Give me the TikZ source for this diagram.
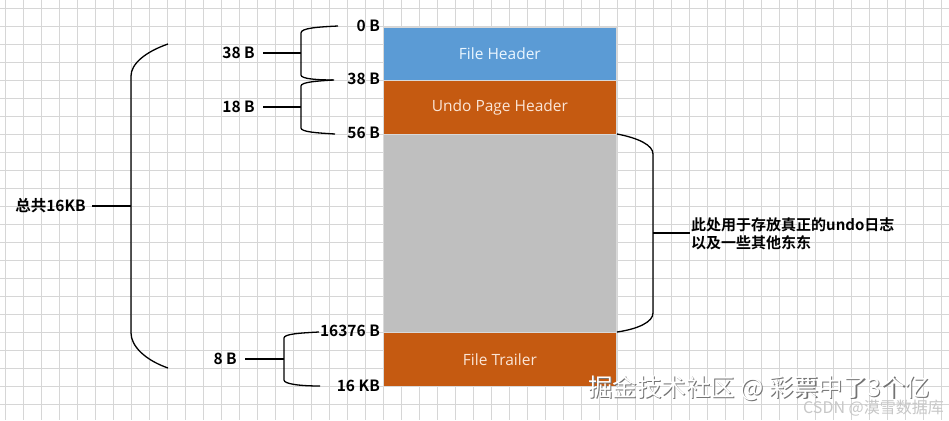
\documentclass[tikz,border=0pt]{standalone}
\usepackage{fontspec}
\setmainfont{Open Sans}
\newfontfamily\cjk{Noto Sans CJK SC}
\newfontfamily\cjkb{Noto Sans CJK SC Bold}
\definecolor{gridc}{HTML}{D6D6D6}
\definecolor{fhblue}{HTML}{5B9BD5}
\definecolor{orng}{HTML}{C55A11}
\definecolor{grayarea}{HTML}{BFBFBF}
\definecolor{fhtext}{HTML}{EAF6FF}
\definecolor{ortext}{HTML}{FBE5D6}
\begin{document}
\begin{tikzpicture}[x=1pt,y=-1pt,
  gridline/.style={draw=gridc, line width=0.7pt},
  seg/.style={draw=white!85!black, line width=0.8pt, inner sep=0pt, anchor=north west, minimum width=233pt},
  lbl/.style={font=\cjkb\fontsize{15.5}{17}\selectfont, inner sep=0pt, text=black},
  brace/.style={draw=black, line width=1.3pt},
  boxtxt/.style={font=\fontsize{15.5}{18}\selectfont}
]
\useasboundingbox (0,0) rectangle (949,420);
\fill[white] (0,0) rectangle (949,420);
\foreach \x in {5,23,...,947} \draw[gridline] (\x,0) -- (\x,420);
\foreach \y in {8,26,...,418} \draw[gridline] (0,\y) -- (949,\y);

% segments
\node[seg, fill=fhblue, minimum height=53pt, text=fhtext, boxtxt] (fh) at (383,27) {File Header};
\node[seg, fill=orng, minimum height=54pt, text=ortext, boxtxt] (uph) at (383,80) {Undo Page Header};
\node[seg, fill=grayarea, minimum height=198pt] (body) at (383,134) {};
\node[seg, fill=orng, minimum height=54pt, text=ortext, boxtxt] (ft) at (383,332) {File Trailer};

% offset labels
\node[lbl, anchor=east] (l0) at (380,26) {0 B};
\node[lbl, anchor=east] (l38) at (380,79) {38 B};
\node[lbl, anchor=east] (l56) at (380,133) {56 B};
\node[lbl, anchor=east] (l16376) at (380,331) {16376 B};
\node[lbl, anchor=east] (l16k) at (380,386) {16 KB};

% size labels
\node[lbl, anchor=east] (s38) at (255,53) {38 B};
\node[lbl, anchor=east] (s18) at (255,107) {18 B};
\node[lbl, anchor=east] (s8) at (237,359) {8 B};
\node[lbl, anchor=east] (tot) at (86,206) {总共16KB};
\node[lbl, anchor=west, align=left, font=\cjkb\fontsize{15}{18}\selectfont] (desc) at (691,234) {此处用于存放真正的undo日志\\以及一些其他东东};

% braces
\coordinate (b1) at (301,53);
\draw[brace] (338,26) .. controls (318,27) and (301,28) .. (301,33) -- (301,75) .. controls (301,79) and (318,80) .. (334,80);
\draw[brace] (s38.east) ++(8,0) -- (b1);
\coordinate (b2) at (301,107);
\draw[brace] (333,80) .. controls (318,81) and (301,82) .. (301,86) -- (301,128) .. controls (301,132) and (318,133) .. (335,134);
\draw[brace] (s18.east) ++(8,0) -- (b2);
\coordinate (b3) at (284,359);
\draw[brace] (319,332) .. controls (300,333) and (284,334) .. (284,338) -- (284,380) .. controls (284,384) and (300,386) .. (320,386);
\draw[brace] (s8.east) ++(8,0) -- (b3);
\coordinate (b4) at (131,206);
\draw[brace] (168,44) .. controls (145,52) and (131,64) .. (131,76) -- (131,333) .. controls (131,346) and (145,360) .. (168,368);
\draw[brace] (tot.east) ++(6,0) -- (b4);
\coordinate (b5) at (653,233);
\draw[brace] (617,134) .. controls (638,138) and (653,145) .. (653,154) -- (653,313) .. controls (653,322) and (638,329) .. (617,332);
\draw[brace] (b5) -- ([xshift=-1pt]desc.west |- b5);

% watermarks
\node[font=\cjk\fontsize{24.5}{28}\selectfont, text=black!55, inner sep=0pt] at (760.3,389.3) {掘金技术社区 @ 彩票中了3个亿};
\node[font=\cjk\fontsize{24.5}{28}\selectfont, text=white, inner sep=0pt] (wm) at (759,388) {掘金技术社区 @ 彩票中了3个亿};
\node[font=\cjk\fontsize{16}{18}\selectfont, text=black!22, inner sep=0pt, anchor=east] (wm2) at (944,408) {CSDN @漠雪数据库};
\end{tikzpicture}
\end{document}
